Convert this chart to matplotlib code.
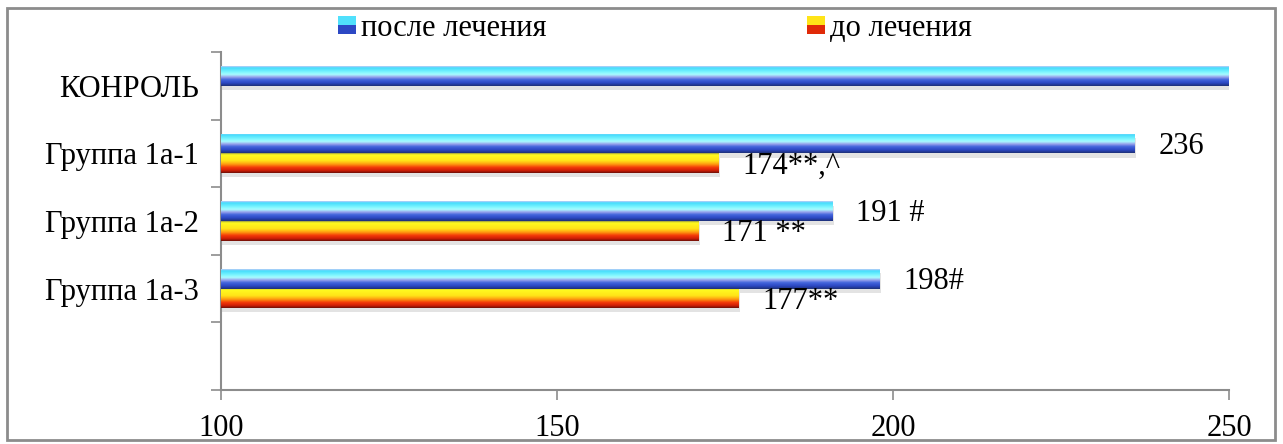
import numpy as np
import matplotlib.pyplot as plt
import matplotlib.patheffects as pe
from matplotlib.colors import LinearSegmentedColormap
from matplotlib.patches import Rectangle
from matplotlib.legend_handler import HandlerBase

plt.rcParams['font.family'] = ['Liberation Serif', 'DejaVu Serif']

groups = ['КОНРОЛЬ', 'Группа 1а-1', 'Группа 1а-2', 'Группа 1а-3', '']
after = [250, 236, 191, 198, np.nan]
before = [np.nan, 174, 171, 177, np.nan]
after_labels = ['', '236', '191 #', '198#', '']
before_labels = ['', '174**,^', '171 **', '177**', '']
xticks = [100, 150, 200, 250]

FS = 22

# glossy gradients, top to bottom
blue_cmap = LinearSegmentedColormap.from_list('after', [
    (0.0, '#c0ccf8'), (0.08, '#44dcfc'), (0.3, '#7ef6ff'), (0.42, '#a8fcff'),
    (0.55, '#9aa4ec'), (0.68, '#4466dc'), (0.85, '#2c48c4'), (1.0, '#1e3078')])
red_cmap = LinearSegmentedColormap.from_list('before', [
    (0.0, '#9a9a40'), (0.08, '#fffa20'), (0.38, '#ffe418'), (0.55, '#ffa010'),
    (0.72, '#f43a08'), (0.88, '#d01e06'), (1.0, '#701008')])

fig = plt.figure(figsize=(12.83, 4.44), dpi=100)
ax = fig.add_axes([221 / 1283, 1 - 390 / 444, 1008 / 1283, 338 / 444])
ax.set_xlim(100, 250)

y = np.arange(len(groups))
h = 0.29
shadow = [pe.SimplePatchShadow(offset=(1, -3), shadow_rgbFace='#b0b0b0', alpha=0.35), pe.Normal()]


def gradient_bars(bars, cmap):
    grad = np.linspace(0, 1, 64).reshape(-1, 1)
    xmin = ax.get_xlim()[0]
    for b in bars:
        w = b.get_width()
        if not np.isfinite(w):
            continue
        b.set_path_effects(shadow)
        x0 = max(b.get_x(), xmin)
        x1 = b.get_x() + w
        y0 = b.get_y()
        im = ax.imshow(grad, cmap=cmap, aspect='auto', origin='upper',
                       extent=(x0, x1, y0 + b.get_height(), y0),
                       interpolation='bilinear', zorder=3)
        im.set_clip_path(b)


after_bars = ax.barh(y - h / 2, after, height=h, color='#3050d0',
                     edgecolor='none', zorder=2)
before_bars = ax.barh(y + h / 2, before, height=h, color='#f04010',
                      edgecolor='none', zorder=2)
gradient_bars(after_bars, blue_cmap)
gradient_bars(before_bars, red_cmap)

for yi, v, s in zip(y, after, after_labels):
    if s:
        ax.annotate(s, (v, yi - h / 2), xytext=(17, -2), textcoords='offset points',
                    va='center', ha='left', fontsize=FS, zorder=5)
for yi, v, s in zip(y, before, before_labels):
    if s:
        ax.annotate(s, (v, yi + h / 2), xytext=(17, -2), textcoords='offset points',
                    va='center', ha='left', fontsize=FS, zorder=5)

ax.set_xlim(100, 250)
ax.set_ylim(len(groups) - 0.5, -0.5)
ax.set_xticks(xticks)
ax.set_xticklabels([str(t) for t in xticks], fontsize=FS)
ax.set_yticks(np.arange(len(groups) + 1) - 0.5)
ax.set_yticklabels([])
ax.set_yticks(y, minor=True)
ax.set_yticklabels(groups, minor=True, fontsize=FS)
ax.tick_params(axis='y', which='minor', length=0, pad=16)
ax.tick_params(axis='both', which='major', length=7, width=1.2, color='#8c8c8c')
ax.tick_params(axis='x', pad=10)
for side in ['top', 'right']:
    ax.spines[side].set_visible(False)
for side in ['left', 'bottom']:
    ax.spines[side].set_color('#8c8c8c')
    ax.spines[side].set_linewidth(1.5)


class SquareHandler(HandlerBase):
    def __init__(self, top, bottom):
        super().__init__()
        self.top = top
        self.bottom = bottom

    def create_artists(self, legend, orig_handle, xdescent, ydescent, width, height, fontsize, trans):
        s = 13
        x0 = -xdescent + (width - s) / 2
        y0 = -ydescent + (height - s) / 2
        lower = Rectangle((x0, y0), s, s * 0.5, facecolor=self.bottom, edgecolor='none', transform=trans)
        upper = Rectangle((x0, y0 + s * 0.5), s, s * 0.5, facecolor=self.top, edgecolor='none', transform=trans)
        return [lower, upper]


h_after = Rectangle((0, 0), 1, 1)
h_before = Rectangle((0, 0), 1, 1)
fig.legend([h_after, h_before], ['после лечения', 'до лечения'],
           handler_map={h_after: SquareHandler('#50e0fc', '#2c48c4'),
                        h_before: SquareHandler('#ffe418', '#e02a08')},
           loc='center', bbox_to_anchor=(0.511, 1 - 28 / 444), ncol=2, frameon=False,
           fontsize=FS, handlelength=0.5, handleheight=0.7, handletextpad=0.2,
           columnspacing=8.6)

fig.add_artist(Rectangle((7 / 1283, 4 / 444), 1268 / 1283, 432 / 444,
                         transform=fig.transFigure, fill=False,
                         edgecolor='#8c8c8c', linewidth=2))

fig.savefig('out.png', dpi=100)
